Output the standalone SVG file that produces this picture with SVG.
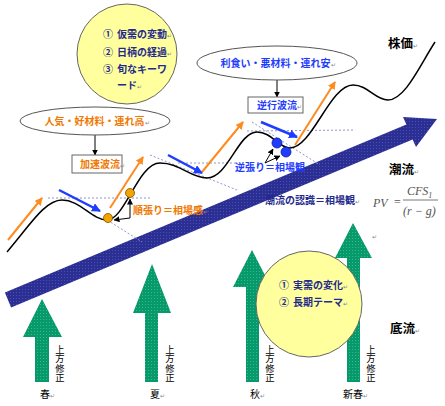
<svg xmlns="http://www.w3.org/2000/svg" width="445" height="406" viewBox="0 0 445 406">
<style>
text{font-family:"Noto Sans CJK JP","Noto Sans",sans-serif;}
.b{font-weight:bold;font-size:10px;}
.nav{fill:#1e2a8c;}
.or{fill:#f07800;}
.bl{fill:#1f3cff;}
.ttl{font-size:12.5px;font-weight:bold;fill:#000;}
.vt{font-size:9.3px;fill:#000;writing-mode:vertical-rl;}
.sea{font-size:10px;fill:#000;}
.ret{font-size:6px;fill:#888;font-weight:normal;}
.chan{stroke:#8e96cc;stroke-width:1;stroke-dasharray:2 2;fill:none;}
.oarr{stroke:#ff8a1e;stroke-width:2;fill:none;marker-end:url(#oh);}
.barr{stroke:#1f3cff;stroke-width:2.5;fill:none;marker-end:url(#bh);}
.karr{stroke:#000;stroke-width:1;fill:none;marker-end:url(#kh);}
.yel{fill:#ffff9e;stroke:#666;stroke-width:1;}
.box{fill:#fff;stroke:#666;stroke-width:1;}
.ell{fill:#fff;stroke:#555;stroke-width:1;}
.fm{font-family:"Liberation Serif",serif;font-style:italic;fill:#555;font-size:12px;}
</style>
<defs>
<marker id="oh" markerUnits="userSpaceOnUse" markerWidth="8" markerHeight="8" refX="7" refY="4" orient="auto"><path d="M0,0 L8,4 L0,8 Z" fill="#ff8a1e"/></marker>
<marker id="bh" markerUnits="userSpaceOnUse" markerWidth="9" markerHeight="9" refX="8" refY="4.5" orient="auto"><path d="M0,0 L9,4.5 L0,9 Z" fill="#1f3cff"/></marker>
<marker id="kh" markerUnits="userSpaceOnUse" markerWidth="6" markerHeight="6" refX="5.5" refY="3" orient="auto"><path d="M0,0 L6,3 L0,6 Z" fill="#000"/></marker>
<pattern id="dots" width="3" height="3" patternUnits="userSpaceOnUse"><rect width="3" height="3" fill="#2b2f93"/><rect x="1" y="1" width="1" height="1" fill="#4a4fb0"/></pattern>
<pattern id="gdots" width="3" height="3" patternUnits="userSpaceOnUse"><rect width="3" height="3" fill="#069a6a"/><rect x="1" y="1" width="1" height="1" fill="#3cb48c"/></pattern>
</defs>

<g id="green-arrows">
<path id="arrow-spring" fill="url(#gdots)" d="M42,299 L62,337 L49,337 L49,382 L35,382 L35,337 L23,337 Z"/>
<path id="arrow-summer" fill="url(#gdots)" d="M152,264 L171,313 L158,313 L158,382 L145,382 L145,313 L133,313 Z"/>
<path id="arrow-autumn" fill="url(#gdots)" d="M252,250 L271,287 L259,287 L259,382 L246,382 L246,287 L233,287 Z"/>
<path id="arrow-newspring" fill="url(#gdots)" d="M353,223 L372,258 L360,258 L360,382 L347,382 L347,258 L335,258 Z"/>
</g>

<g id="trend-arrow">
<path fill="url(#dots)" d="M4.9,292.6 L406.4,124.6 L403,117 L437,119 L416,147 L412.6,139.4 L11.1,307.4 Z"/>
</g>

<g id="channels">
<line class="chan" x1="48" y1="198" x2="150" y2="198"/>
<line class="chan" x1="104" y1="218" x2="142" y2="242"/>
<line class="chan" x1="150" y1="155" x2="237" y2="190"/>
<line class="chan" x1="178" y1="163" x2="237" y2="163"/>
<line class="chan" x1="247" y1="131" x2="355" y2="130"/>
<line class="chan" x1="252" y1="122" x2="320" y2="165"/>
</g>

<g id="price-curve">
<path fill="none" stroke="#000" stroke-width="1.5" d="M7,252 C30,225 45,200 62,200 C80,200 92,220 107,220 C125,220 138,163 160,163 C180,163 190,178 207,178 C228,178 238,132 257,132 C272,132 278,148 290,148 C312,148 330,85 353,85 C368,85 375,100 388,100 C405,100 420,65 435,42"/>
</g>

<g id="connectors">
<line class="oarr" x1="8" y1="240" x2="42" y2="198"/>
<line class="oarr" x1="110" y1="208" x2="143" y2="157"/>
<line class="oarr" x1="202" y1="172" x2="243" y2="122"/>
<line class="oarr" x1="295" y1="145" x2="335" y2="82"/>
<line class="barr" x1="59" y1="190" x2="100" y2="211"/>
<line class="barr" x1="168" y1="155" x2="202" y2="173"/>
<line class="barr" x1="261" y1="122" x2="297" y2="137"/>
<line class="karr" x1="95" y1="135" x2="95" y2="155"/>
<line class="karr" x1="277" y1="80" x2="277" y2="97"/>
<line class="karr" x1="130" y1="218" x2="130" y2="199"/>
<line class="karr" x1="130" y1="218" x2="114" y2="220"/>
<line class="karr" x1="265" y1="163" x2="273" y2="149"/>
<line class="karr" x1="265" y1="163" x2="280" y2="156"/>
</g>

<g id="points">
<circle cx="108" cy="218" r="4.5" fill="#f5a300" stroke="#7a5000" stroke-width="0.8"/>
<circle cx="130" cy="193" r="4.5" fill="#f5a300" stroke="#7a5000" stroke-width="0.8"/>
<circle cx="277" cy="143" r="5" fill="#1f3cff" stroke="#0a1a99" stroke-width="0.8"/>
<circle cx="286" cy="152" r="5" fill="#1f3cff" stroke="#0a1a99" stroke-width="0.8"/>
</g>

<g id="factors-top">
<circle class="yel" cx="127" cy="54" r="50"/>
<text class="b nav" x="103" y="38">①<tspan x="117">仮需の変動</tspan><tspan class="ret">↵</tspan></text>
<text class="b nav" x="103" y="56">②<tspan x="117">日柄の経過</tspan><tspan class="ret">↵</tspan></text>
<text class="b nav" x="103" y="73">③<tspan x="117">旬なキーワ</tspan></text>
<text class="b nav" x="117" y="89">ード<tspan class="ret">↵</tspan></text>
</g>

<g id="bull-ellipse">
<ellipse class="ell" cx="95" cy="121" rx="75" ry="14"/>
<text class="b or" x="97" y="125" text-anchor="middle">人気・好材料・連れ高<tspan class="ret">↵</tspan></text>
</g>

<g id="bear-ellipse">
<ellipse class="ell" cx="277" cy="63" rx="80" ry="17"/>
<text class="b bl" x="278" y="67" text-anchor="middle">利食い・悪材料・連れ安<tspan class="ret">↵</tspan></text>
</g>

<g id="accel-box">
<rect class="box" x="72" y="155" width="50" height="18"/>
<text class="b or" x="80" y="168">加速波流<tspan class="ret">↵</tspan></text>
</g>

<g id="reverse-box">
<rect class="box" x="248" y="97" width="55" height="16"/>
<text class="b bl" x="257" y="109">逆行波流<tspan class="ret">↵</tspan></text>
</g>

<g id="labels">
<text class="b or" x="133" y="214">順張り＝相場感<tspan class="ret">↵</tspan></text>
<text class="b bl" x="235" y="171">逆張り＝相場観</text>
<text class="b nav" x="265" y="204">潮流の認識＝相場観<tspan class="ret">↵</tspan></text>
<text class="ttl" x="388" y="48">株価<tspan class="ret">↵</tspan></text>
<text class="ttl" x="389" y="174">潮流<tspan class="ret">↵</tspan></text>
<text class="ttl" x="390" y="333">底流<tspan class="ret">↵</tspan></text>
</g>

<g id="formula">
<text class="fm" x="373" y="207">PV</text>
<text class="fm" x="394" y="206" style="font-style:normal">=</text>
<text class="fm" x="407" y="195">CFS<tspan font-size="8" dy="3">1</tspan></text>
<line x1="403" y1="200" x2="438" y2="200" stroke="#555" stroke-width="0.8"/>
<text class="fm" x="403" y="215">(r − g)</text>
<text class="ret" x="372" y="239">↵</text>
</g>

<g id="factors-bottom">
<circle class="yel" cx="309" cy="304" r="53"/>
<text class="b nav" x="279" y="289">①<tspan x="293">実需の変化</tspan><tspan class="ret">↵</tspan></text>
<text class="b nav" x="279" y="306">②<tspan x="293">長期テーマ</tspan><tspan class="ret">↵</tspan></text>
</g>

<g id="revisions">
<text class="vt" x="60" y="345">上方修正</text>
<text class="vt" x="170" y="345">上方修正</text>
<text class="vt" x="270" y="345">上方修正</text>
<text class="vt" x="371" y="345">上方修正</text>
</g>

<g id="seasons">
<text class="sea" x="40" y="398">春<tspan class="ret">↵</tspan></text>
<text class="sea" x="150" y="398">夏<tspan class="ret">↵</tspan></text>
<text class="sea" x="250" y="398">秋<tspan class="ret">↵</tspan></text>
<text class="sea" x="343" y="398">新春<tspan class="ret">↵</tspan></text>
</g>
</svg>
